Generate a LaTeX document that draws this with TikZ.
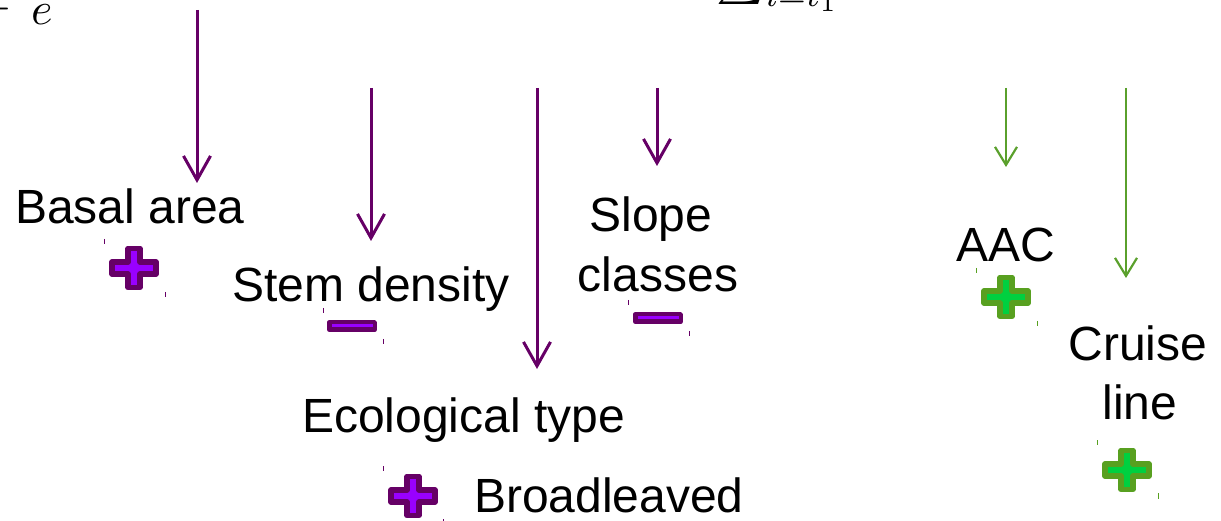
\documentclass[tikz,border=0pt]{standalone}
\usepackage{graphicx}
\usepackage{fontspec}
\setmainfont{Liberation Sans}
\usetikzlibrary{arrows.meta}
\definecolor{pdark}{HTML}{660066}
\definecolor{pbright}{HTML}{9900FF}
\definecolor{gdark}{HTML}{58A020}
\definecolor{gbright}{HTML}{00D040}
\definecolor{gline}{HTML}{5AA02C}
\newcommand{\plussym}[4]{%
  \filldraw[draw=#3,fill=#4,line width=5.5pt,line join=round]
    (#1-6,#2-19.5) -- (#1+6,#2-19.5) -- (#1+6,#2-6) -- (#1+22,#2-6) --
    (#1+22,#2+6) -- (#1+6,#2+6) -- (#1+6,#2+19.5) -- (#1-6,#2+19.5) --
    (#1-6,#2+6) -- (#1-22,#2+6) -- (#1-22,#2-6) -- (#1-6,#2-6) -- cycle;}
\newcommand{\minussym}[4]{%
  \filldraw[draw=#3,fill=#4,line width=4.5pt,line join=round]
    (#1-22.75,#2-3.75) rectangle (#1+22.75,#2+3.75);}
\newcommand{\tickmark}[4]{%
  \draw[#4,line width=1pt] (#1,#2) -- (#1,#3);}
\newcommand{\bigmath}[1]{\scalebox{4.6}{$#1$}}
\begin{document}
\begin{tikzpicture}[x=1pt,y=-1pt,
  lbl/.style={anchor=base west,inner sep=0pt,font=\fontsize{48}{57}\selectfont},
  lblc/.style={anchor=base,inner sep=0pt,font=\fontsize{48}{57}\selectfont},
  mth/.style={inner sep=0pt},
  parr/.style={draw=pdark,line width=3pt,-{Straight Barb[length=24pt,width=27pt,line width=3pt]}},
  garr/.style={draw=gline,line width=2pt,-{Straight Barb[length=18pt,width=22pt,line width=2.2pt]}}]
\useasboundingbox (0,0) rectangle (1221,521);
\clip (0,0) rectangle (1221,521);
% partial formula remnants
\node[mth,anchor=base east] (m1) at (12,21) {\bigmath{-}};
\node[mth,anchor=base west] (m2) at (31,25) {\bigmath{e}};
\node[mth,anchor=base west] (m3) at (716,-7) {\bigmath{\sum_{i=t_1}}};
% arrow start/end coordinates
\coordinate (a1s) at (197,10);  \coordinate (a1e) at (197,183);
\coordinate (a2s) at (371,88);  \coordinate (a2e) at (371,241);
\coordinate (a3s) at (537,88);  \coordinate (a3e) at (537,369);
\coordinate (a4s) at (657,88);  \coordinate (a4e) at (657,166);
\coordinate (g1s) at (1006,88); \coordinate (g1e) at (1006,167);
\coordinate (g2s) at (1126,88); \coordinate (g2e) at (1126,278);
\draw[parr] (a1s) -- (a1e);
\draw[parr] (a2s) -- (a2e);
\draw[parr] (a3s) -- (a3e);
\draw[parr] (a4s) -- (a4e);
\draw[garr] (g1s) -- (g1e);
\draw[garr] (g2s) -- (g2e);
% labels
\node[lbl] (basal) at (15,224) {Basal area};
\node[lbl] (stem) at (232,302) {Stem density};
\node[lblc] (slope) at (651,232) {Slope};
\node[lblc] (classes) at (658,292) {classes};
\node[lbl] (eco) at (302,432) {Ecological type};
\node[lbl] (broad) at (474,512) {Broadleaved};
\node[lbl] (aac) at (956,262) {AAC};
\node[lblc] (cruise) at (1138,360) {Cruise};
\node[lblc] (line) at (1140,419) {line};
% signs
\plussym{134}{268}{pdark}{pbright}
\minussym{352}{326}{pdark}{pbright}
\minussym{658}{318}{pdark}{pbright}
\plussym{1006}{297}{gdark}{gbright}
\plussym{1127}{470}{gdark}{gbright}
\plussym{413}{496}{pdark}{pbright}
% tiny handle marks
\tickmark{104}{239}{244}{pdark}
\tickmark{165}{292}{297}{pdark}
\tickmark{323}{308}{313}{pdark}
\tickmark{383}{339}{344}{pdark}
\tickmark{628}{300}{305}{pdark}
\tickmark{689}{331}{336}{pdark}
\tickmark{976}{268}{273}{gdark}
\tickmark{1037}{321}{326}{gdark}
\tickmark{1097}{440}{445}{gdark}
\tickmark{1158}{493}{499}{gdark}
\tickmark{383}{466}{471}{pdark}
\tickmark{443}{519}{521}{pdark}
\end{tikzpicture}
\end{document}
